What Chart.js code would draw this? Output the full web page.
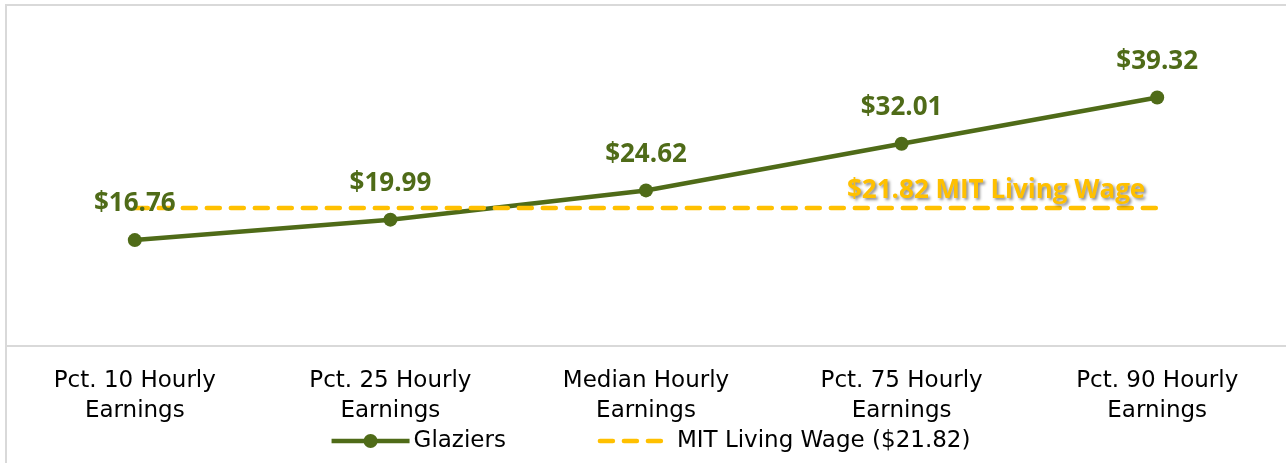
<!DOCTYPE html>
<html>
<head>
<meta charset="utf-8">
<script src="https://cdn.jsdelivr.net/npm/chart.js@4"></script>
<style>
  html, body { margin: 0; padding: 0; background: #fff; overflow: hidden; }
  #frame {
    position: absolute; left: 5px; top: 4px; width: 1400px; height: 600px;
    border-left: 2px solid #d9d9d9; border-top: 2px solid #d9d9d9;
  }
  #wrap { position: absolute; left: 0; top: 0; width: 1292px; height: 463px; }
</style>
</head>
<body>
<div id="frame"></div>
<div id="wrap"><canvas id="myChart"></canvas></div>
<script>
var categories = [
    ["Pct. 10 Hourly", "Earnings"],
    ["Pct. 25 Hourly", "Earnings"],
    ["Median Hourly", "Earnings"],
    ["Pct. 75 Hourly", "Earnings"],
    ["Pct. 90 Hourly", "Earnings"]
];
var glaziers = [16.76, 19.99, 24.62, 32.01, 39.32];
var livingWage = [21.82, 21.82, 21.82, 21.82, 21.82];
var seriesNames = ["Glaziers", "MIT Living Wage ($21.82)"];
var wageLabel = "$21.82 MIT Living Wage";

var GREEN = "#4f6b18";
var GOLD = "#ffc000";
var FONT = "'DejaVu Sans', sans-serif";
var BOLD = "'Open Sans', sans-serif";

var labelPlugin = {
    id: "labels",
    afterDatasetsDraw: function (chart) {
        var ctx = chart.ctx;
        var meta = chart.getDatasetMeta(0);
        ctx.save();
        ctx.font = "bold 26px " + BOLD;
        ctx.fillStyle = GREEN;
        ctx.textAlign = "center";
        ctx.textBaseline = "middle";
        meta.data.forEach(function (pt, i) {
            ctx.fillText("$" + glaziers[i].toFixed(2), pt.x, pt.y - 36);
        });

        // living wage label with soft shadow
        var wMeta = chart.getDatasetMeta(1);
        var last = wMeta.data[wMeta.data.length - 1];
        ctx.font = "bold 26px " + BOLD;
        ctx.textAlign = "right";
        ctx.shadowColor = "rgba(0,0,0,0.45)";
        ctx.shadowOffsetX = 2;
        ctx.shadowOffsetY = 2;
        ctx.shadowBlur = 3;
        ctx.fillStyle = GOLD;
        ctx.fillText(wageLabel, last.x - 12, last.y - 18);
        ctx.restore();
    },
    afterDraw: function (chart) {
        var ctx = chart.ctx;
        var area = chart.chartArea;
        var y = 441;
        ctx.save();
        ctx.font = "23px " + FONT;
        ctx.textBaseline = "middle";
        var m1 = 78, m2 = 66, gap = 4, gap2 = 13, spacing = 92;
        var t1 = ctx.measureText(seriesNames[0]).width;
        var t2 = ctx.measureText(seriesNames[1]).width;
        var total = m1 + gap + t1 + spacing + m2 + gap2 + t2;
        var x = (area.left + area.right) / 2 + 5 - total / 2;

        ctx.strokeStyle = GREEN;
        ctx.lineWidth = 4.5;
        ctx.beginPath();
        ctx.moveTo(x, y);
        ctx.lineTo(x + m1, y);
        ctx.stroke();
        ctx.fillStyle = GREEN;
        ctx.beginPath();
        ctx.arc(x + m1 / 2, y, 7, 0, Math.PI * 2);
        ctx.fill();
        ctx.fillStyle = "#000";
        ctx.fillText(seriesNames[0], x + m1 + gap, y);

        x += m1 + gap + t1 + spacing;
        ctx.strokeStyle = GOLD;
        ctx.lineWidth = 4.5;
        ctx.lineCap = "round";
        ctx.setLineDash([13, 11]);
        ctx.beginPath();
        ctx.moveTo(x + 2, y);
        ctx.lineTo(x + m2 - 2, y);
        ctx.stroke();
        ctx.setLineDash([]);
        ctx.fillStyle = "#000";
        ctx.fillText(seriesNames[1], x + m2 + gap2, y);
        ctx.restore();
    }
};

var ctx = document.getElementById("myChart").getContext("2d");
var myChart = new Chart(ctx, {
    type: "line",
    data: {
        labels: categories,
        datasets: [{
            label: seriesNames[0],
            data: glaziers,
            borderColor: GREEN,
            backgroundColor: GREEN,
            borderWidth: 4.5,
            pointRadius: 7,
            pointHoverRadius: 7,
            pointBackgroundColor: GREEN,
            pointBorderWidth: 0,
            tension: 0,
            order: 2
        }, {
            label: seriesNames[1],
            data: livingWage,
            borderColor: GOLD,
            borderWidth: 4.5,
            borderDash: [13, 11],
            borderCapStyle: "round",
            pointRadius: 0,
            tension: 0,
            order: 1
        }]
    },
    options: {
        responsive: true,
        maintainAspectRatio: false,
        animation: false,
        layout: { padding: { left: 5, right: 3, top: 30, bottom: 17 } },
        plugins: {
            legend: { display: false },
            tooltip: { enabled: false }
        },
        scales: {
            x: {
                offset: true,
                grid: { display: false, drawTicks: false },
                border: { display: true, color: "#d9d9d9", width: 2 },
                ticks: {
                    color: "#000",
                    padding: 20,
                    maxRotation: 0,
                    autoSkip: false,
                    font: { family: FONT, size: 23, lineHeight: "30px" }
                }
            },
            y: {
                display: false,
                min: 0,
                max: 50
            }
        }
    },
    plugins: [labelPlugin]
});
</script>
</body>
</html>
